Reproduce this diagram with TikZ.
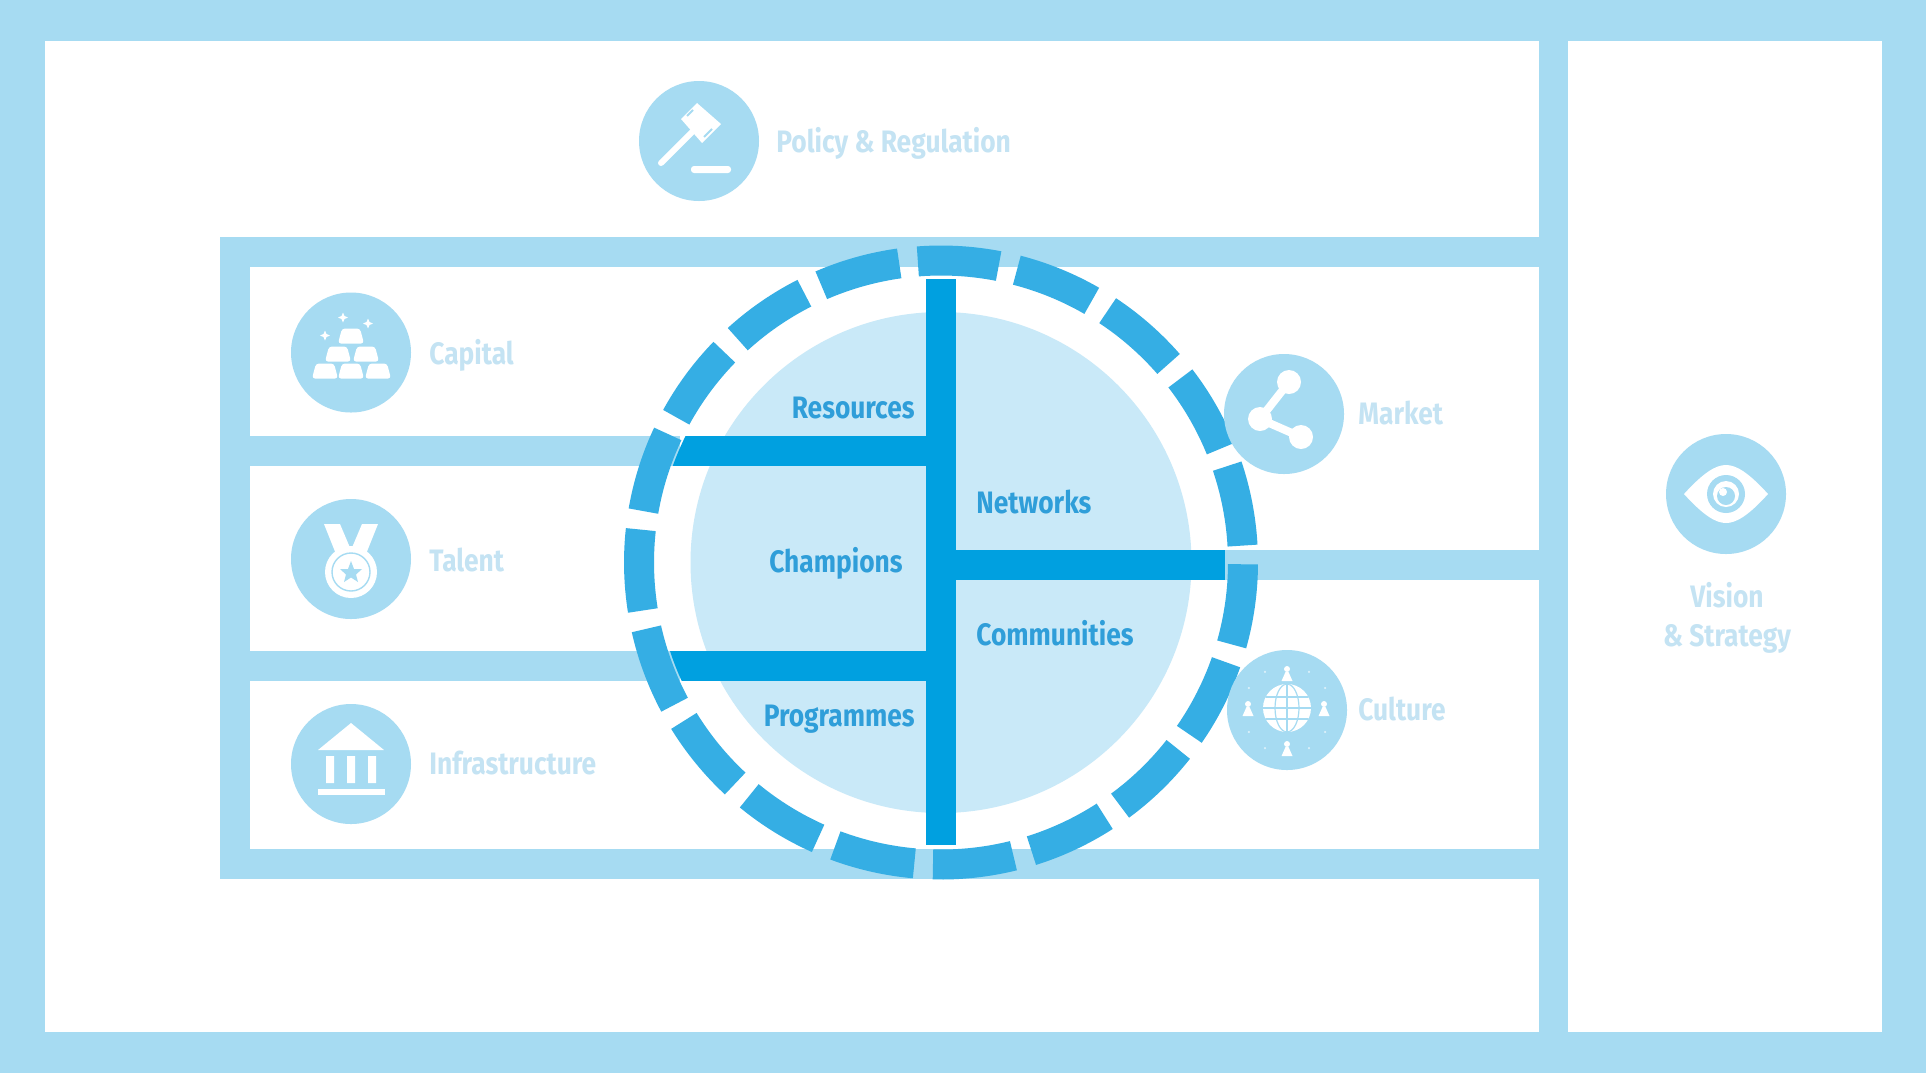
\documentclass[tikz,border=0pt]{standalone}
\usepackage{fontspec}
\setmainfont{Fira Sans}[FakeStretch=0.85]
\definecolor{bandc}{HTML}{A6DBF2}
\definecolor{discc}{HTML}{C9E9F8}
\definecolor{ringc}{HTML}{35AEE4}
\definecolor{barc}{HTML}{00A0E0}
\definecolor{lblc}{HTML}{2F9ED9}
\definecolor{softc}{HTML}{C4E3F3}
\tikzset{
  bandfill/.style={fill=bandc},
  barfill/.style={fill=barc},
  ringseg/.style={draw=ringc,line width=15pt},
  iconcirc/.style={circle,fill=bandc,minimum size=60pt,inner sep=0pt},
  softlbl/.style={text=softc,font=\fontsize{15.5}{18}\selectfont\bfseries,inner sep=0pt,anchor=west,text height=13.7pt,text depth=2pt},
  corelbl/.style={text=lblc,font=\fontsize{15.5}{18}\selectfont\bfseries,inner sep=0pt,text height=13.7pt,text depth=2pt},
  wh/.style={fill=white},
  bl/.style={fill=bandc}
}
\newcommand{\goldbar}[2]{\fill[wh,rounded corners=1.5pt] (#1-9,#2) -- (#1+9,#2) -- (#1+13,#2+15) -- (#1-13,#2+15) -- cycle;}
\newcommand{\spark}[3]{\fill[wh] (#1,#2-#3) -- (#1+.3*#3,#2-.3*#3) -- (#1+#3,#2) -- (#1+.3*#3,#2+.3*#3) -- (#1,#2+#3) -- (#1-.3*#3,#2+.3*#3) -- (#1-#3,#2) -- (#1-.3*#3,#2-.3*#3) -- cycle;}
\newcommand{\pawn}[2]{\fill[wh] (#1,#2-4) circle[radius=3] (#1-5.5,#2+8) -- (#1-1.5,#2-1) -- (#1+1.5,#2-1) -- (#1+5.5,#2+8) -- cycle;}
\begin{document}
\begin{tikzpicture}[x=0.5pt,y=-0.5pt]
\useasboundingbox (0,0) rectangle (1926,1073);
% frame
\fill[bandfill] (0,0) rectangle (1926,1073);
\fill[white] (45,41) rectangle (1539,1032);
\fill[white] (1568,41) rectangle (1882,1032);
% inner frame
\fill[bandfill] (220,237) rectangle (1539,267);
\fill[bandfill] (220,849) rectangle (1539,879);
\fill[bandfill] (220,237) rectangle (250,879);
\fill[bandfill] (250,436) rectangle (680,466);
\fill[bandfill] (250,651) rectangle (680,681);
\fill[bandfill] (1210,550) rectangle (1539,580);
% disc
\coordinate (ctr) at (941,562.5);
\fill[discc] (ctr) circle[radius=250.5];
% arms
\begin{scope}
\clip (ctr) circle[radius=285];
\fill[barfill] (600,436) rectangle (926,466);
\fill[barfill] (600,651) rectangle (926,681);
\end{scope}
\fill[barfill] (956,550) rectangle (1225,580);
\fill[barfill] (926,279) rectangle (956,845);
% ring
\foreach \k in {0,...,18}{
  \pgfmathsetmacro{\sa}{-94.4+18.947*\k}
  \pgfmathsetmacro{\ea}{\sa+15.4}
  \draw[ringseg,shift={(ctr)}] (\sa:302) arc[start angle=\sa,end angle=\ea,radius=302];
}
% core labels
\node[corelbl,anchor=east] (resources) at (915,407) {Resources};
\node[corelbl,anchor=east] (champions) at (903,561) {Champions};
\node[corelbl,anchor=east] (programmes) at (915,715) {Programmes};
\node[corelbl,anchor=west] (networks) at (976,502) {Networks};
\node[corelbl,anchor=west] (communities) at (976,634) {Communities};
% icon circles
\node[iconcirc] (policy) at (699,141) {};
\node[iconcirc] (capital) at (351,352.5) {};
\node[iconcirc] (talent) at (351,559) {};
\node[iconcirc] (infra) at (351,764) {};
\node[iconcirc] (market) at (1284,414) {};
\node[iconcirc] (culture) at (1287,710) {};
\node[iconcirc] (vision) at (1726,494) {};
% labels
\node[softlbl] (policylbl) at (776,141) {Policy \& Regulation};
\node[softlbl] (capitallbl) at (429,353) {Capital};
\node[softlbl] (talentlbl) at (429,560) {Talent};
\node[softlbl] (infralbl) at (429,763) {Infrastructure};
\node[softlbl] (marketlbl) at (1358,413) {Market};
\node[softlbl] (culturelbl) at (1358,709) {Culture};
\node[softlbl,anchor=center] (visionlbl) at (1727,596) {Vision};
\node[softlbl,anchor=center] (strategylbl) at (1727,635) {\& Strategy};
% gavel
\begin{scope}[shift={(policy.center)}]
\draw[white,line width=3pt,line cap=round] (-38,22) -- (-6,-10);
\fill[wh] (-2,-38) -- (-18,-22) -- (3,2) -- (22,-17) -- cycle;
\draw[bandc,line width=1pt] (-12,-25) -- (-6,-31);
\draw[bandc,line width=1pt] (5,-4) -- (13,-12);
\fill[wh,rounded corners=1.5pt] (-8,25) rectangle (32,32);
\end{scope}
% gold
\begin{scope}[shift={(capital.center)}]
\goldbar{-26}{11}\goldbar{0}{11}\goldbar{27}{11}
\goldbar{-13}{-6}\goldbar{15}{-6}
\goldbar{0}{-24}
\spark{-8}{-35}{5}\spark{17}{-29}{5}\spark{-26}{-17}{5}
\end{scope}
% medal
\begin{scope}[shift={(talent.center)}]
\fill[wh] (-27,-35) -- (-11,-35) -- (0,-9) -- (11,-35) -- (27,-35) -- (13,0) -- (-13,0) -- cycle;
\fill[wh] (0,13) circle[radius=26];
\draw[bandc,line width=.7pt] (0,13) circle[radius=19];
\fill[bl] (0,2) -- (3,10) -- (11,10) -- (5,15.5) -- (7,23) -- (0,18.5) -- (-7,23) -- (-5,15.5) -- (-11,10) -- (-3,10) -- cycle;
\end{scope}
% building
\begin{scope}[shift={(infra.center)}]
\fill[wh] (0,-41) -- (33,-14) -- (-33,-14) -- cycle;
\fill[wh] (-25,-8) rectangle (-17,19) (-4,-8) rectangle (4,19) (17,-8) rectangle (25,19);
\fill[wh] (-33,25) rectangle (34,31);
\end{scope}
% share
\begin{scope}[shift={(market.center)}]
\draw[white,line width=4pt] (5,-32) -- (-24,5) -- (17,23);
\fill[wh] (5,-32) circle[radius=12] (-24,5) circle[radius=12] (17,23) circle[radius=12];
\end{scope}
% globe
\begin{scope}[shift={(culture.center)}]
\fill[wh] (0,-2) circle[radius=24];
\begin{scope}[shift={(0,-2)}]
\clip (0,0) circle[radius=24];
\draw[bandc,line width=.6pt] (0,-24) -- (0,24) (-24,0) -- (24,0) (-24,-11) -- (24,-11) (-24,11) -- (24,11);
\draw[bandc,line width=.6pt] (0,0) ellipse[x radius=12,y radius=24];
\end{scope}
\pawn{0}{-37}\pawn{0}{38}\pawn{-39}{-2}\pawn{37}{-2}
\foreach \a in {30,60,120,150,210,240,300,330}{\fill[white,opacity=.6] (\a:44) circle[radius=1.2];}
\end{scope}
% eye
\begin{scope}[shift={(vision.center)}]
\fill[wh] (-42,0) .. controls (-22,-22) and (-10,-29) .. (0,-29) .. controls (10,-29) and (22,-22) .. (42,0) .. controls (22,22) and (10,29) .. (0,29) .. controls (-10,29) and (-22,22) .. (-42,0) -- cycle;
\fill[bl] (0,0) circle[radius=19];
\fill[wh] (0,0) circle[radius=13];
\fill[bl] (0,2) circle[radius=9];
\fill[wh] (-3,-2) circle[radius=4];
\end{scope}
\end{tikzpicture}
\end{document}
